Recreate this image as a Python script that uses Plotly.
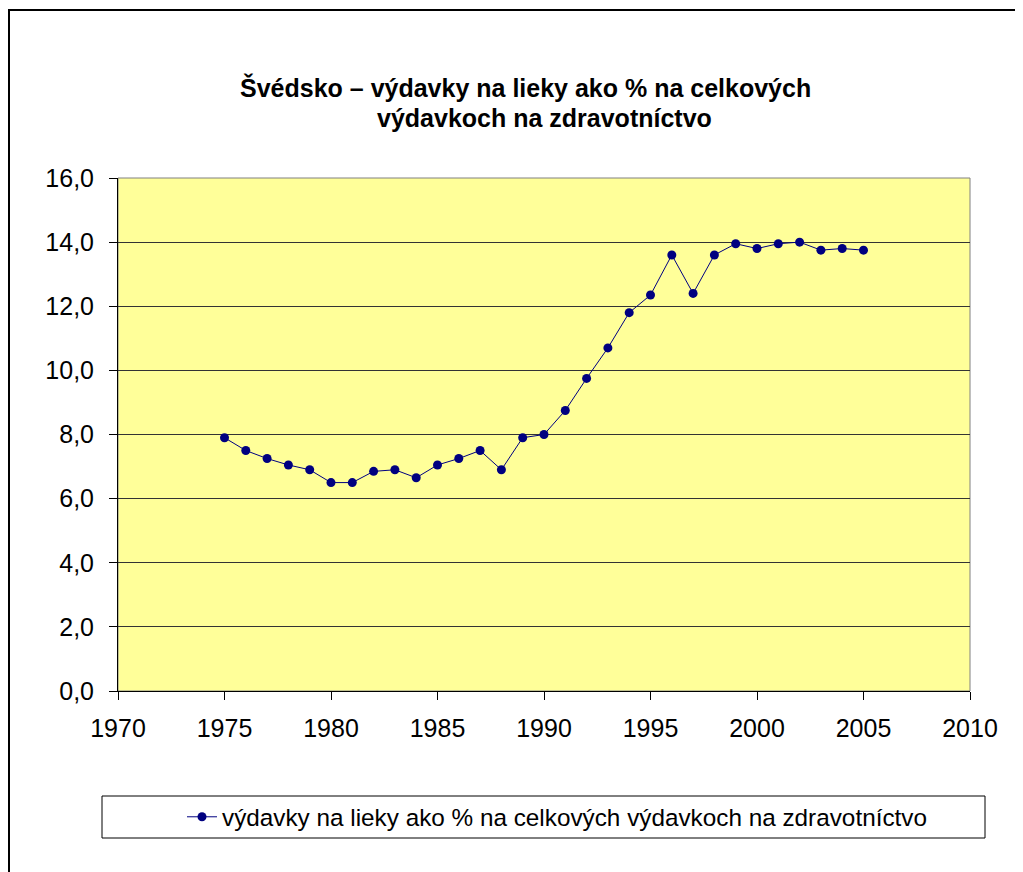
import plotly.graph_objects as go

years = list(range(1975, 2006))
values = [7.9, 7.5, 7.25, 7.05, 6.9, 6.5, 6.5, 6.85, 6.9, 6.65,
          7.05, 7.25, 7.5, 6.9, 7.9, 8.0, 8.75, 9.75, 10.7, 11.8,
          12.35, 13.6, 12.4, 13.6, 13.95, 13.8, 13.95, 14.0, 13.75, 13.8, 13.75]
series_name = "výdavky na lieky ako % na celkových výdavkoch na zdravotníctvo"
title_line1 = "Švédsko – výdavky na lieky ako % na celkových"
title_line2 = "výdavkoch na zdravotníctvo"
y_ticks = [0, 2, 4, 6, 8, 10, 12, 14, 16]
y_tick_labels = ["0,0", "2,0", "4,0", "6,0", "8,0", "10,0", "12,0", "14,0", "16,0"]
x_ticks = [1970, 1975, 1980, 1985, 1990, 1995, 2000, 2005, 2010]

FONT = "Arial, Liberation Sans, sans-serif"
OFF = 8  # browser body margin
W, H = 1023 - OFF, 872 - OFF
L, R, T, B = 118 - OFF, 970 - OFF, 178 - OFF, 691 - OFF


def px(xp):  # page x -> paper x
    return (xp - OFF - L) / (R - L)


def py(yp):  # page y -> paper y
    return (B - (yp - OFF)) / (B - T)


fig = go.Figure()
fig.add_trace(go.Scatter(
    x=years, y=values, mode="lines+markers", name=series_name,
    line=dict(color="#000080", width=1),
    marker=dict(color="#000080", size=9, symbol="circle"),
))

fig.update_layout(
    width=W, height=H,
    margin=dict(l=L, r=W - R, t=T, b=H - B, pad=0),
    paper_bgcolor="white",
    plot_bgcolor="#FFFF99",
    font=dict(family=FONT, color="black"),
    showlegend=True,
    legend=dict(orientation="h", x=px(182), xanchor="left", y=py(817), yanchor="middle",
                bgcolor="rgba(0,0,0,0)", font=dict(size=24.3, family=FONT)),
    xaxis=dict(range=[1970, 2010], tickvals=x_ticks, ticks="outside", ticklen=8,
               tickcolor="black", showgrid=False, zeroline=False, showline=True,
               linecolor="black", linewidth=1, tickfont=dict(size=25, family=FONT),
               ticklabelstandoff=7, fixedrange=True),
    yaxis=dict(range=[0, 16], tickvals=y_ticks, ticktext=y_tick_labels, ticks="outside",
               ticklen=8, tickcolor="black", showgrid=True, gridcolor="#333333",
               gridwidth=1, zeroline=False, showline=True, linecolor="black",
               linewidth=1, tickfont=dict(size=25, family=FONT),
               ticklabelstandoff=10, fixedrange=True),
    annotations=[
        dict(text="<b>" + title_line1 + "</b>", xref="paper", yref="paper",
             x=px(525), y=py(88), xanchor="center", yanchor="middle", showarrow=False,
             font=dict(size=25, family=FONT)),
        dict(text="<b>" + title_line2 + "</b>", xref="paper", yref="paper",
             x=px(544), y=py(118), xanchor="center", yanchor="middle", showarrow=False,
             font=dict(size=25, family=FONT)),
    ],
    shapes=[
        dict(type="rect", xref="paper", yref="paper", x0=0, x1=1, y0=0, y1=1,
             line=dict(color="#808080", width=1), layer="below"),
        dict(type="rect", xref="paper", yref="paper",
             x0=px(102), x1=px(985), y0=py(838), y1=py(796),
             line=dict(color="black", width=1)),
        dict(type="rect", xref="paper", yref="paper",
             x0=px(OFF + 1), x1=px(1040), y0=py(890), y1=py(10),
             line=dict(color="black", width=2)),
    ],
)

fig.write_html("out.html")
